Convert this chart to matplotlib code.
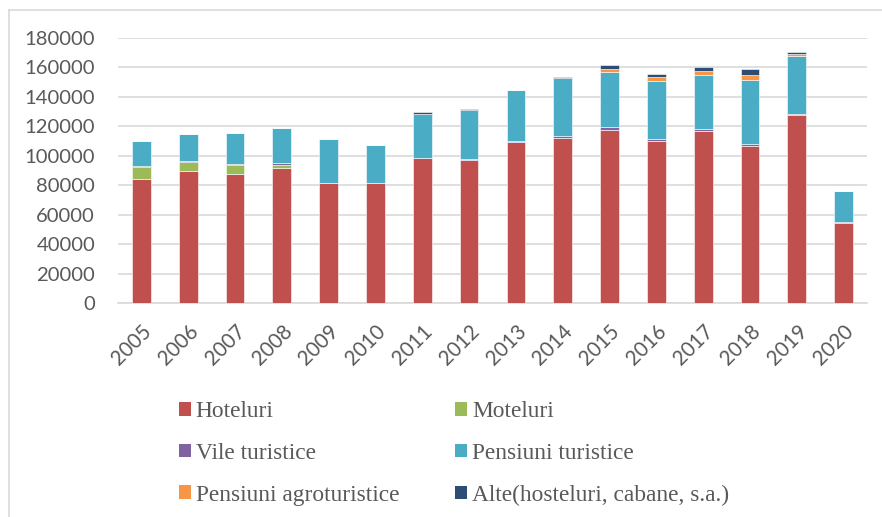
import matplotlib
matplotlib.use("Agg")
import matplotlib.pyplot as plt
from matplotlib.lines import Line2D
from matplotlib.patches import Patch
import numpy as np

years = ["2005", "2006", "2007", "2008", "2009", "2010", "2011", "2012",
         "2013", "2014", "2015", "2016", "2017", "2018", "2019", "2020"]
hoteluri = [84500, 89500, 87400, 91700, 81500, 81500, 98300, 97400,
            109600, 112400, 117600, 110100, 116900, 106700, 127400, 54300]
moteluri = [7700, 6500, 6300, 2300, 0, 0, 0, 0,
            0, 0, 0, 0, 0, 0, 0, 0]
vile = [900, 700, 700, 900, 0, 0, 0, 400,
        400, 1100, 2000, 1600, 1400, 1400, 700, 400]
pensiuni = [17000, 18100, 20800, 24200, 29900, 25600, 29900, 33100,
            34600, 39300, 37500, 38800, 36800, 43600, 39700, 21300]
agro = [0, 0, 0, 0, 0, 0, 0, 0,
        0, 0, 1800, 2900, 2500, 3400, 1600, 0]
alte = [0, 0, 400, 0, 0, 0, 1200, 1100,
        0, 700, 2700, 2300, 2700, 3600, 1100, 400]
series_names = ["Hoteluri", "Moteluri", "Vile turistice", "Pensiuni turistice",
                "Pensiuni agroturistice", "Alte(hosteluri, cabane, s.a.)"]
yticks = [0, 20000, 40000, 60000, 80000, 100000, 120000, 140000, 160000, 180000]

colors = ["#C0504D", "#9BBB59", "#8064A2", "#4BACC6", "#F79646", "#2C4D75"]
series = [hoteluri, moteluri, vile, pensiuni, agro, alte]

W, H = 882, 517
fig = plt.figure(figsize=(W / 100, H / 100), dpi=100)
ax = fig.add_axes([118 / W, 1 - 303 / H, (867 - 118) / W, (303 - 38) / H])

x = np.arange(len(years))
bottom = np.zeros(len(years))
for vals, c, name in zip(series, colors, series_names):
    v = np.array(vals, dtype=float)
    ax.bar(x, v, 0.4, bottom=bottom, color=c, edgecolor="white",
           linewidth=0.4, label=name, zorder=3)
    bottom += v

ax.set_xlim(-0.5, len(years) - 0.5)
ax.set_ylim(0, 180000)
ax.set_yticks(yticks)
ax.set_yticklabels([str(t) for t in yticks], fontfamily="Lato", fontsize=14.6,
                   color="#595959")
ax.set_xticks(x)
ax.set_xticklabels(years, rotation=45, ha="right", rotation_mode="anchor",
                   fontfamily="Lato", fontsize=14.8, color="#595959")
ax.tick_params(axis="both", length=0)
ax.tick_params(axis="y", pad=16.5)
ax.tick_params(axis="x", pad=13)
for s in ["left", "right", "top"]:
    ax.spines[s].set_visible(False)
ax.spines["bottom"].set_color("#d9d9d9")
ax.spines["bottom"].set_linewidth(1.2)
ax.yaxis.grid(True, color="#d9d9d9", linewidth=1.2, zorder=0)
ax.set_axisbelow(True)

# legend
handles = [Patch(facecolor=c, edgecolor="none") for c in colors]
order = [0, 2, 4, 1, 3, 5]
leg = fig.legend([handles[i] for i in order], [series_names[i] for i in order],
                 ncol=2, loc="upper left", bbox_to_anchor=(178.5 / W, 1 - 401 / H),
                 frameon=False, prop={"family": "Liberation Serif", "size": 16.8},
                 handlelength=0.52, handleheight=0.52, handletextpad=0.22,
                 labelspacing=0.89, columnspacing=2.39, borderaxespad=0, borderpad=0)
for t in leg.get_texts():
    t.set_color("#595959")

# chart border (left and top)
fig.add_artist(Line2D([8.5 / W, 8.5 / W], [0, 1 - 10 / H], transform=fig.transFigure,
                      color="#d9d9d9", linewidth=1.2))
fig.add_artist(Line2D([8.5 / W, 1], [1 - 10 / H, 1 - 10 / H], transform=fig.transFigure,
                      color="#d9d9d9", linewidth=1.2))

fig.savefig("out.png", dpi=100)
